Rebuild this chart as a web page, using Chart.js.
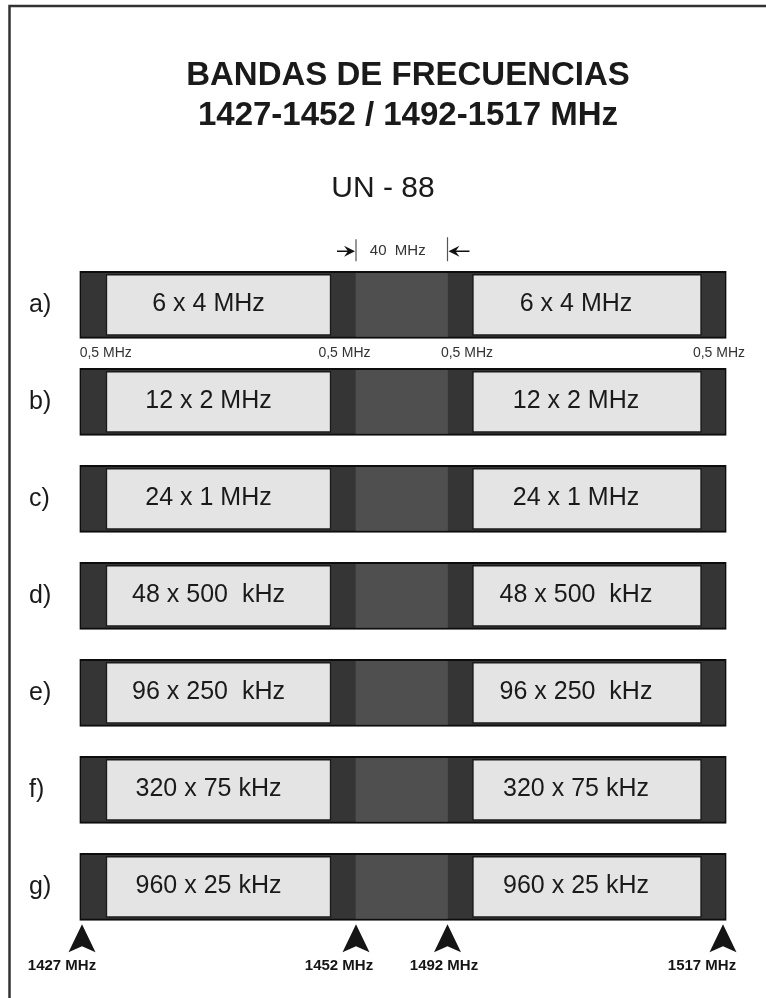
<!DOCTYPE html>
<html>
<head>
<meta charset="utf-8">
<script src="https://cdn.jsdelivr.net/npm/chart.js@4.4.1/dist/chart.umd.min.js"></script>
<style>
  html, body { margin: 0; padding: 0; background: #ffffff; }
  #wrap { width: 766px; height: 998px; position: relative; }
</style>
</head>
<body>
<div id="wrap"><canvas id="c" width="766" height="998"></canvas></div>
<script>
// ---------------- DATA ----------------
const rowLabels = ['a)', 'b)', 'c)', 'd)', 'e)', 'f)', 'g)'];
const lowerPlans = ['6 x 4 MHz', '12 x 2 MHz', '24 x 1 MHz', '48 x 500  kHz', '96 x 250  kHz', '320 x 75 kHz', '960 x 25 kHz'];
const upperPlans = ['6 x 4 MHz', '12 x 2 MHz', '24 x 1 MHz', '48 x 500  kHz', '96 x 250  kHz', '320 x 75 kHz', '960 x 25 kHz'];
// full band 1427-1517 MHz (guard bands of 0,5 MHz at both edges of each sub-band)
const fullBand = [[1427, 1517], [1427, 1517], [1427, 1517], [1427, 1517], [1427, 1517], [1427, 1517], [1427, 1517]];
const centreGap = [[1452, 1492], [1452, 1492], [1452, 1492], [1452, 1492], [1452, 1492], [1452, 1492], [1452, 1492]];
const lowerChannels = [[1427.5, 1451.5], [1427.5, 1451.5], [1427.5, 1451.5], [1427.5, 1451.5], [1427.5, 1451.5], [1427.5, 1451.5], [1427.5, 1451.5]];
const upperChannels = [[1492.5, 1516.5], [1492.5, 1516.5], [1492.5, 1516.5], [1492.5, 1516.5], [1492.5, 1516.5], [1492.5, 1516.5], [1492.5, 1516.5]];
const guardCentres = [1427.25, 1451.75, 1492.25, 1516.75];
const guardLabel = '0,5 MHz';
const gapLabel = '40  MHz';
const markerFreqs = [1427, 1452, 1492, 1517];
const markerLabels = ['1427 MHz', '1452 MHz', '1492 MHz', '1517 MHz'];
const titleLines = ['BANDAS DE FRECUENCIAS', '1427-1452 / 1492-1517 MHz'];
const subtitle = 'UN - 88';

// ---------------- SCHEMATIC (not-to-scale) FREQUENCY AXIS ----------------
const AXIS_STOPS_MHZ = [1427, 1427.5, 1451.5, 1452, 1492, 1492.5, 1516.5, 1517];
const AXIS_STOPS_FRAC = [0, 0.04096, 0.38872, 0.42736, 0.56878, 0.60742, 0.96136, 1];

class SchematicScale extends Chart.LinearScale {
  _toDecimal(value) {
    const s = AXIS_STOPS_MHZ, f = AXIS_STOPS_FRAC, n = s.length - 1;
    if (value <= s[0]) return (value - s[0]) / (s[n] - s[0]);
    if (value >= s[n]) return 1 + (value - s[n]) / (s[n] - s[0]);
    for (let i = 0; i < n; i++) {
      if (value >= s[i] && value <= s[i + 1]) {
        return f[i] + (value - s[i]) / (s[i + 1] - s[i]) * (f[i + 1] - f[i]);
      }
    }
    return 0;
  }
  getPixelForValue(value) {
    if (value === null || value === undefined || isNaN(value)) return NaN;
    return this.getPixelForDecimal(this._toDecimal(+value));
  }
  getValueForPixel(pixel) {
    const d = this.getDecimalForPixel(pixel);
    const s = AXIS_STOPS_MHZ, f = AXIS_STOPS_FRAC, n = s.length - 1;
    for (let i = 0; i < n; i++) {
      if (d >= f[i] && d <= f[i + 1]) return s[i] + (d - f[i]) / (f[i + 1] - f[i]) * (s[i + 1] - s[i]);
    }
    return d <= 0 ? s[0] : s[n];
  }
}
SchematicScale.id = 'schematic';
SchematicScale.defaults = Chart.LinearScale.defaults;
Chart.register(SchematicScale);

// ---------------- DECORATION PLUGIN ----------------
const FONT = "'Liberation Sans', Arial, Helvetica, sans-serif";

function upArrow(ctx, x, tipY) {
  ctx.beginPath();
  ctx.moveTo(x, tipY);
  ctx.lineTo(x + 13.5, tipY + 28);
  ctx.lineTo(x, tipY + 22);
  ctx.lineTo(x - 13.5, tipY + 28);
  ctx.closePath();
  ctx.fill();
}

const decor = {
  id: 'decor',
  beforeDraw(chart) {
    const ctx = chart.ctx;
    ctx.save();
    ctx.fillStyle = '#ffffff';
    ctx.fillRect(0, 0, chart.width, chart.height);
    // frame (top + left)
    ctx.strokeStyle = '#333333';
    ctx.lineWidth = 2.5;
    ctx.beginPath();
    ctx.moveTo(9.5, 998);
    ctx.lineTo(9.5, 6);
    ctx.lineTo(766, 6);
    ctx.stroke();
    ctx.restore();
  },
  afterDatasetsDraw(chart) {
    const ctx = chart.ctx;
    const xs = chart.scales.x;
    const lowMeta = chart.getDatasetMeta(2);
    const upMeta = chart.getDatasetMeta(3);
    const bandMeta = chart.getDatasetMeta(0);
    ctx.save();
    ctx.fillStyle = '#1a1a1a';

    // Titles
    ctx.textAlign = 'center';
    ctx.textBaseline = 'alphabetic';
    ctx.font = 'bold 33px ' + FONT;
    ctx.fillText(titleLines[0], 408, 85);
    ctx.fillText(titleLines[1], 408, 125);
    ctx.font = '30px ' + FONT;
    ctx.fillText(subtitle, 383, 197);

    // Channel plan labels inside light boxes
    ctx.font = '25px ' + FONT;
    ctx.textBaseline = 'middle';
    for (let i = 0; i < rowLabels.length; i++) {
      const l = lowMeta.data[i], u = upMeta.data[i];
      ctx.fillText(lowerPlans[i], (l.x + l.base) / 2 - 10, l.y - 1);
      ctx.fillText(upperPlans[i], (u.x + u.base) / 2 - 11, u.y - 1);
    }

    // Row labels
    ctx.textAlign = 'left';
    ctx.font = '25px ' + FONT;
    for (let i = 0; i < rowLabels.length; i++) {
      ctx.fillText(rowLabels[i], 29, bandMeta.data[i].y);
    }

    // 0,5 MHz guard labels under first row
    const firstBar = bandMeta.data[0];
    const guardY = firstBar.y + firstBar.height / 2 + 15;
    const guardShift = [13, 1, 7, 5];
    ctx.font = '14px ' + FONT;
    ctx.fillStyle = '#333333';
    ctx.textAlign = 'center';
    guardCentres.forEach((f, k) => {
      ctx.fillText(guardLabel, xs.getPixelForValue(f) + guardShift[k], guardY);
    });

    // 40 MHz dimension marker above first row
    const gx1 = xs.getPixelForValue(centreGap[0][0]);
    const gx2 = xs.getPixelForValue(centreGap[0][1]);
    const ay = firstBar.y - firstBar.height / 2 - 20;
    ctx.fillStyle = '#333333';
    ctx.font = '15px ' + FONT;
    ctx.fillText(gapLabel, (gx1 + gx2) / 2 - 4, ay);
    ctx.strokeStyle = '#555555';
    ctx.lineWidth = 1.2;
    ctx.beginPath();
    ctx.moveTo(gx1, ay - 12); ctx.lineTo(gx1, ay + 10);
    ctx.moveTo(gx2, ay - 14); ctx.lineTo(gx2, ay + 10);
    ctx.stroke();
    ctx.strokeStyle = '#111111';
    ctx.lineWidth = 1.6;
    ctx.beginPath();
    ctx.moveTo(gx1 - 19, ay); ctx.lineTo(gx1 - 5, ay);
    ctx.moveTo(gx2 + 5, ay); ctx.lineTo(gx2 + 22, ay);
    ctx.stroke();
    ctx.fillStyle = '#111111';
    ctx.beginPath();
    ctx.moveTo(gx1 - 1, ay); ctx.lineTo(gx1 - 12, ay - 5.5); ctx.lineTo(gx1 - 8, ay); ctx.lineTo(gx1 - 12, ay + 5.5); ctx.closePath();
    ctx.fill();
    ctx.beginPath();
    ctx.moveTo(gx2 + 1, ay); ctx.lineTo(gx2 + 12, ay - 5.5); ctx.lineTo(gx2 + 8, ay); ctx.lineTo(gx2 + 12, ay + 5.5); ctx.closePath();
    ctx.fill();

    // Frequency markers at bottom
    const lastBar = bandMeta.data[rowLabels.length - 1];
    const tipY = lastBar.y + lastBar.height / 2 + 4;
    const arrowShift = [2.5, 0, 0, -3.5];
    const labelShift = [-17.5, -17, -3.5, -24.5];
    ctx.font = 'bold 15px ' + FONT;
    ctx.textBaseline = 'alphabetic';
    ctx.fillStyle = '#151515';
    markerFreqs.forEach((f, k) => {
      const px = xs.getPixelForValue(f);
      upArrow(ctx, px + arrowShift[k], tipY);
      ctx.fillText(markerLabels[k], px + labelShift[k], tipY + 46);
    });
    ctx.restore();
  }
};

// ---------------- CHART ----------------
new Chart(document.getElementById('c'), {
  type: 'bar',
  data: {
    labels: rowLabels,
    datasets: [
      { label: 'Banda 1427-1517 MHz', data: fullBand, backgroundColor: '#353535', borderColor: '#0d0d0d',
        borderWidth: 2, borderSkipped: false, barThickness: 67, grouped: false, order: 3 },
      { label: 'Separación 40 MHz', data: centreGap, backgroundColor: '#4f4f4f', borderWidth: 0,
        barThickness: 63, grouped: false, order: 2 },
      { label: 'Canales 1427,5-1451,5 MHz', data: lowerChannels, backgroundColor: '#e4e4e4', borderColor: '#1a1a1a',
        borderWidth: 1.5, borderSkipped: false, barThickness: 61, grouped: false, order: 1 },
      { label: 'Canales 1492,5-1516,5 MHz', data: upperChannels, backgroundColor: '#e4e4e4', borderColor: '#1a1a1a',
        borderWidth: 1.5, borderSkipped: false, barThickness: 61, grouped: false, order: 0 }
    ]
  },
  options: {
    indexAxis: 'y',
    responsive: false,
    animation: false,
    events: [],
    layout: { padding: { left: 79.5, right: 39.5, top: 256.3, bottom: 62.7 } },
    scales: {
      x: { type: 'schematic', min: 1427, max: 1517, display: false },
      y: { type: 'category', display: false, offset: true }
    },
    plugins: {
      legend: { display: false },
      tooltip: { enabled: false },
      title: { display: false }
    }
  },
  plugins: [decor]
});
</script>
</body>
</html>
